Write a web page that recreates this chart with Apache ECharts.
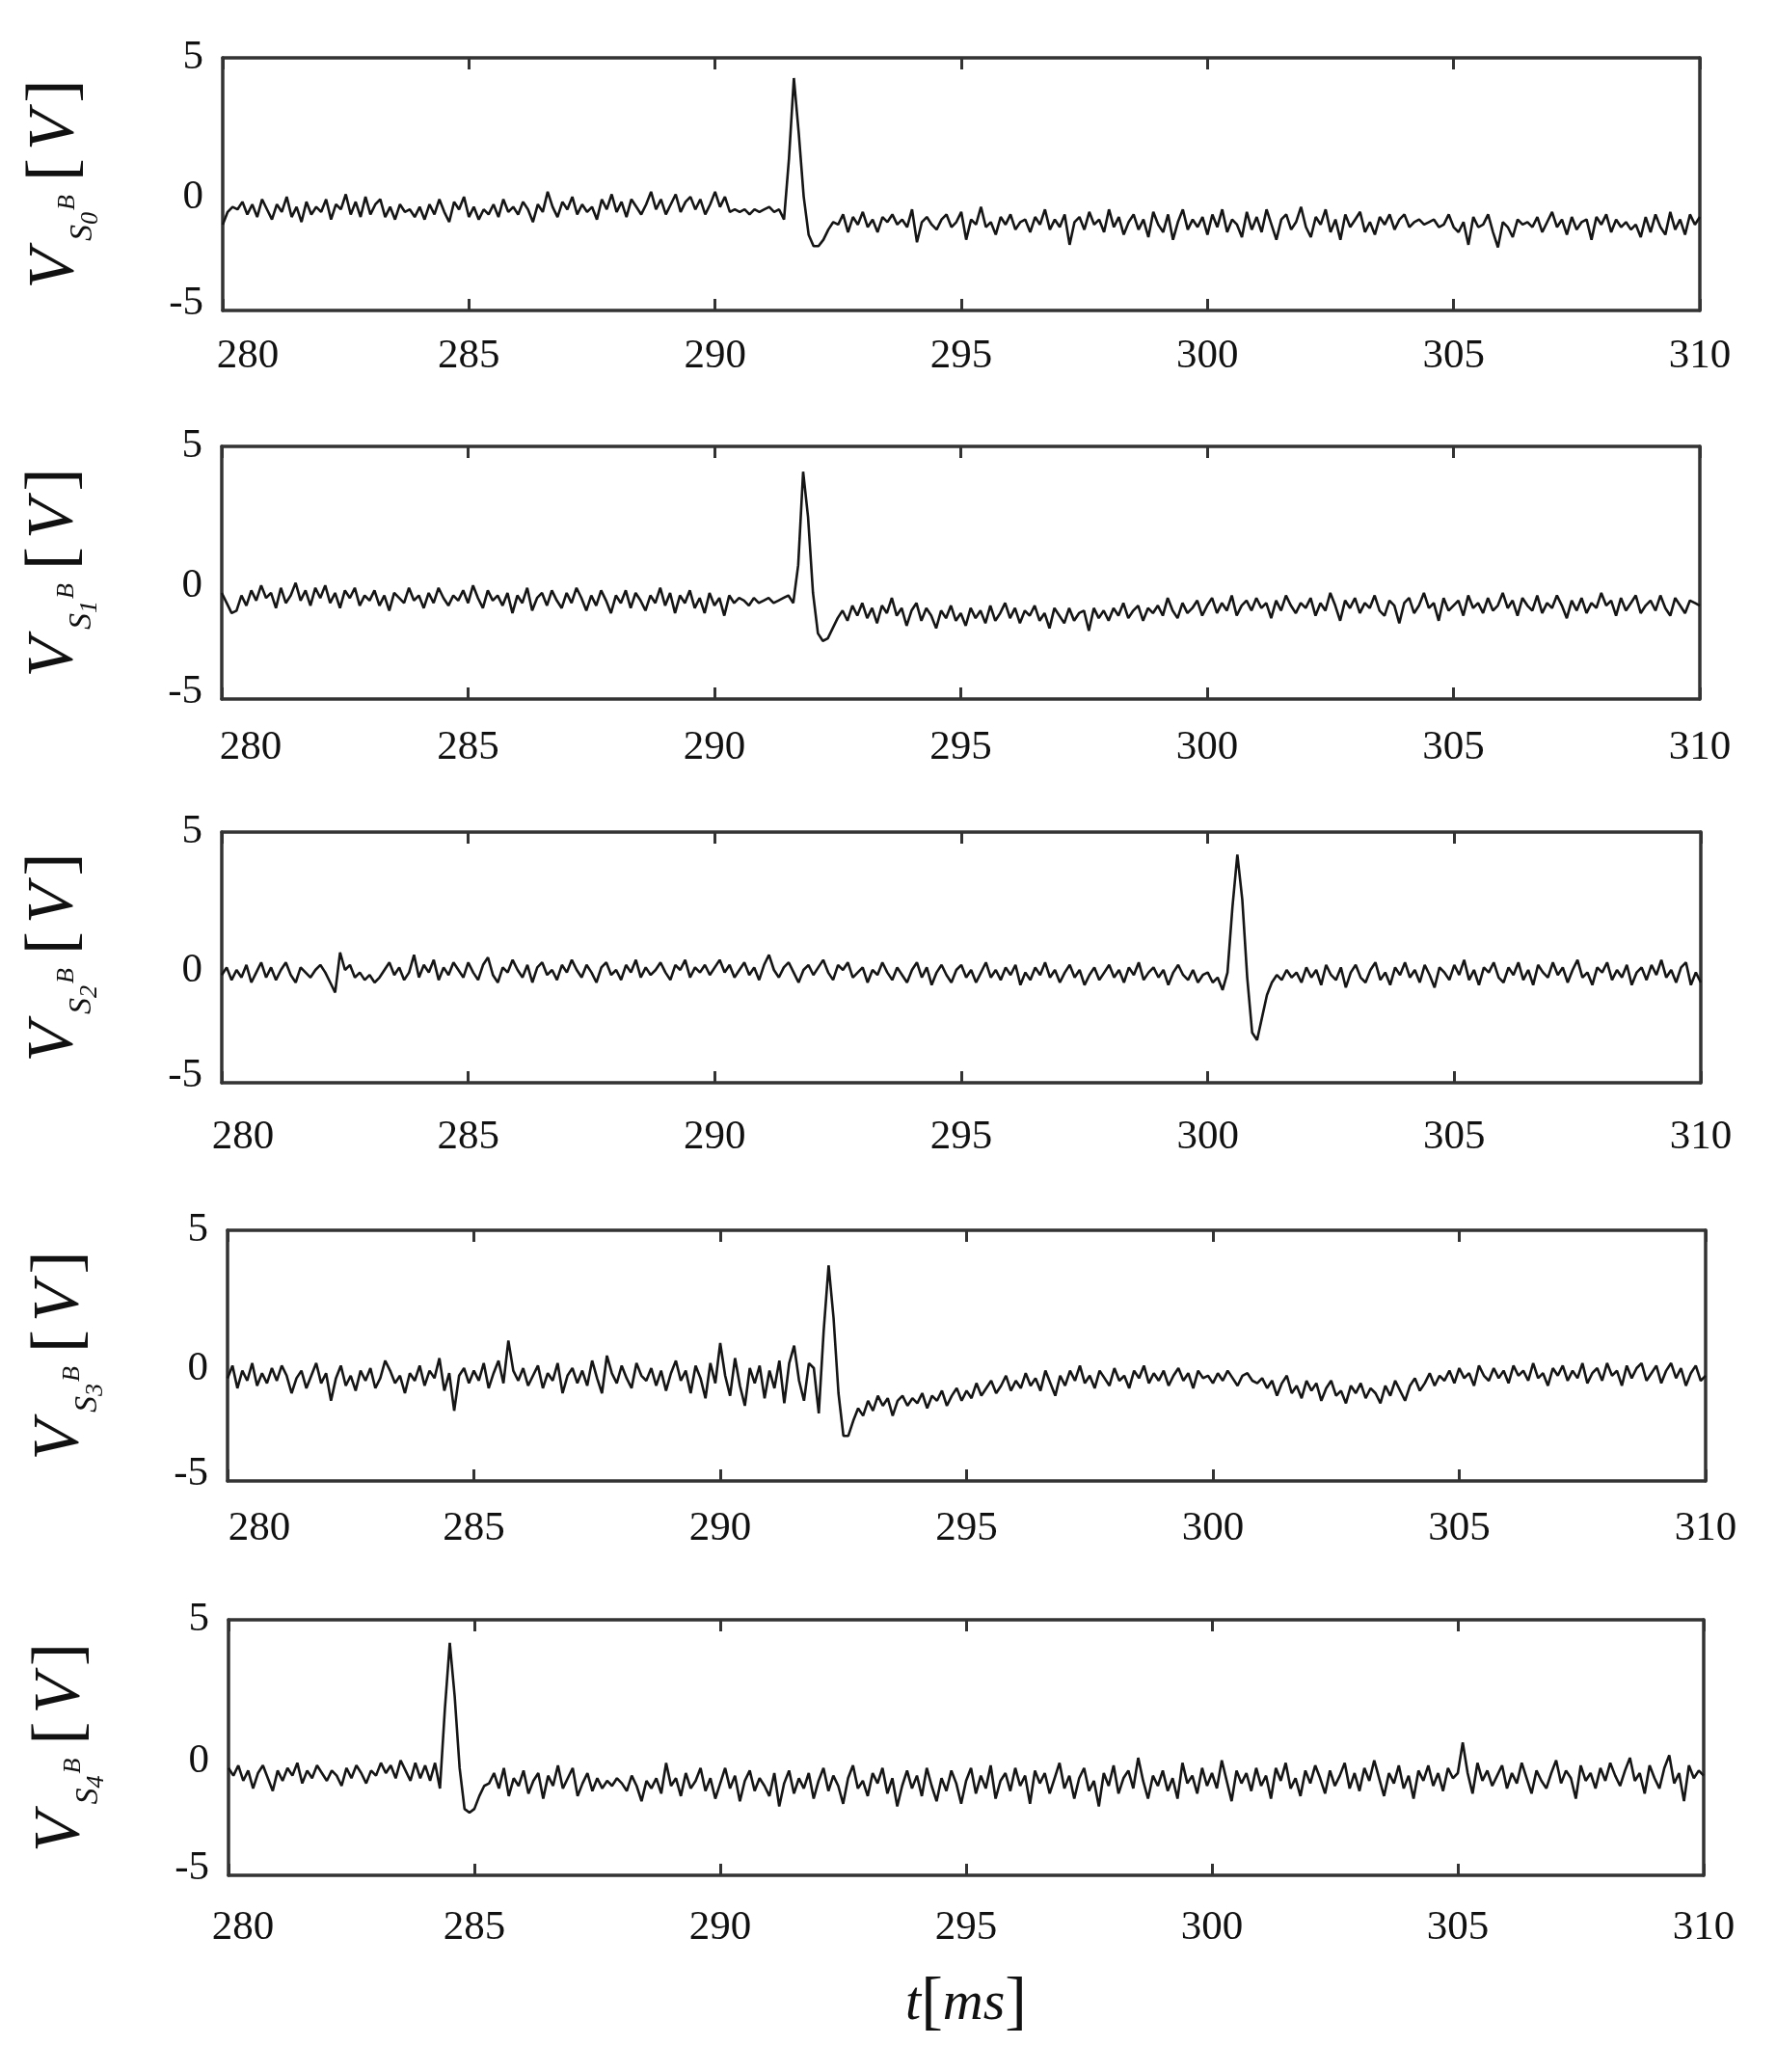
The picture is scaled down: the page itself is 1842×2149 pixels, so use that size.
<!DOCTYPE html>
<html>
<head>
<meta charset="utf-8">
<script src="https://cdn.jsdelivr.net/npm/echarts@6/dist/echarts.min.js"></script>
<style>
html,body{margin:0;padding:0;background:#fff;}
#c{width:1842px;height:2149px;}
</style>
</head>
<body>
<div id="c"></div>
<script>
// ---- data (time axis: 280.0 ms .. 310.0 ms, sampled every 0.1 ms) ----
const T_START = 280;
const T_STEP = 0.1;
const X_TICKS = [280, 285, 290, 295, 300, 305, 310];
const Y_TICKS = [-5, 0, 5];
const SUBSCRIPTS = ['0', '1', '2', '3', '4'];

const vS0 = [
-1.6,-1.1,-0.9,-1.0,-0.7,-1.2,-0.8,-1.3,-0.6,-1.0,
-1.4,-0.8,-1.1,-0.5,-1.3,-0.9,-1.5,-0.7,-1.2,-0.9,
-1.1,-0.6,-1.4,-0.8,-1.0,-0.4,-1.2,-0.7,-1.3,-0.5,
-1.2,-0.8,-0.6,-1.3,-0.9,-1.4,-0.8,-1.1,-1.0,-1.3,
-0.9,-1.4,-0.8,-1.2,-0.6,-1.1,-1.5,-0.7,-1.0,-0.5,
-1.3,-0.9,-1.4,-1.0,-1.2,-0.8,-1.3,-0.6,-1.1,-0.9,
-1.2,-0.7,-1.0,-1.5,-0.8,-1.1,-0.3,-0.9,-1.3,-0.7,
-1.0,-0.5,-1.2,-0.8,-1.1,-0.9,-1.4,-0.6,-1.0,-0.4,
-1.1,-0.7,-1.3,-0.6,-0.9,-1.2,-0.8,-0.3,-1.0,-0.6,
-1.2,-0.8,-0.4,-1.1,-0.7,-0.5,-1.0,-0.6,-1.2,-0.8,
-0.3,-0.9,-0.5,-1.1,-1.0,-1.1,-1.0,-1.2,-1.0,-1.1,
-1.0,-0.9,-1.1,-1.0,-1.4,1.0,4.2,2.0,-0.5,-2.0,
-2.45,-2.45,-2.2,-1.8,-1.5,-1.6,-1.2,-1.9,-1.3,-1.6,
-1.1,-1.7,-1.4,-1.9,-1.3,-1.5,-1.2,-1.6,-1.4,-1.7,
-1.0,-2.3,-1.5,-1.3,-1.6,-1.8,-1.4,-1.2,-1.7,-1.5,
-1.1,-2.2,-1.4,-1.6,-0.9,-1.7,-1.5,-2.0,-1.3,-1.6,
-1.2,-1.8,-1.5,-1.4,-1.9,-1.3,-1.6,-1.0,-1.8,-1.4,
-1.7,-1.2,-2.4,-1.5,-1.3,-1.8,-1.1,-1.6,-1.4,-1.9,
-1.0,-1.7,-1.3,-2.0,-1.5,-1.2,-1.8,-1.4,-2.1,-1.1,
-1.6,-1.9,-1.2,-2.2,-1.5,-1.0,-1.8,-1.4,-1.7,-1.3,
-2.0,-1.2,-1.7,-1.0,-1.9,-1.4,-1.6,-2.1,-1.1,-1.8,
-1.3,-1.9,-1.0,-1.6,-2.2,-1.4,-1.2,-1.8,-1.5,-0.9,
-1.7,-2.1,-1.3,-1.6,-1.0,-1.9,-1.4,-2.2,-1.2,-1.7,
-1.4,-1.1,-1.9,-1.5,-2.0,-1.3,-1.6,-1.2,-1.8,-1.4,
-1.2,-1.7,-1.5,-1.4,-1.6,-1.5,-1.4,-1.7,-1.6,-1.2,
-1.7,-1.9,-1.5,-2.4,-1.3,-1.7,-1.6,-1.2,-1.9,-2.5,
-1.5,-1.7,-2.1,-1.4,-1.6,-1.5,-1.7,-1.3,-1.9,-1.5,
-1.1,-1.7,-1.4,-2.0,-1.3,-1.8,-1.5,-1.4,-2.2,-1.3,
-1.6,-1.2,-1.9,-1.4,-1.7,-1.5,-1.8,-1.6,-2.1,-1.3,
-1.9,-1.2,-1.7,-2.0,-1.1,-1.8,-1.4,-2.0,-1.2,-1.6,
-1.3];

const vS1 = [
-0.8,-1.2,-1.6,-1.5,-0.9,-1.3,-0.7,-1.1,-0.5,-1.0,
-0.8,-1.4,-0.6,-1.2,-0.9,-0.4,-1.1,-0.7,-1.3,-0.6,
-1.0,-0.5,-1.2,-0.8,-1.4,-0.7,-1.0,-0.6,-1.3,-0.9,
-1.1,-0.7,-1.3,-0.9,-1.5,-0.8,-1.0,-1.2,-0.6,-1.1,
-0.9,-1.4,-0.8,-1.2,-0.6,-1.0,-1.3,-0.9,-1.1,-0.7,
-1.2,-0.5,-1.0,-1.4,-0.7,-1.1,-0.9,-1.3,-0.8,-1.6,
-0.9,-1.2,-0.6,-1.5,-1.0,-0.8,-1.3,-0.7,-1.1,-1.4,
-0.8,-1.2,-0.6,-1.0,-1.5,-0.9,-1.3,-0.7,-1.1,-1.6,
-0.9,-1.2,-0.7,-1.4,-0.8,-1.1,-1.5,-0.9,-1.2,-0.6,
-1.3,-0.8,-1.6,-0.9,-1.2,-0.7,-1.4,-1.0,-1.6,-0.8,
-1.3,-1.0,-1.7,-0.9,-1.2,-1.0,-1.1,-1.3,-1.0,-1.2,
-1.1,-1.0,-1.2,-1.1,-1.0,-0.9,-1.2,0.3,4.0,2.2,
-0.8,-2.4,-2.7,-2.6,-2.2,-1.8,-1.5,-1.9,-1.3,-1.7,
-1.2,-1.8,-1.4,-2.0,-1.3,-1.6,-1.0,-1.7,-1.4,-2.1,
-1.5,-1.2,-1.9,-1.4,-1.7,-2.2,-1.5,-1.8,-1.3,-1.9,
-1.6,-2.1,-1.4,-1.8,-1.5,-2.0,-1.3,-1.9,-1.6,-1.2,
-1.8,-1.4,-2.0,-1.5,-1.7,-1.3,-1.9,-1.6,-2.2,-1.4,
-1.7,-2.0,-1.4,-1.9,-1.6,-1.5,-2.3,-1.4,-1.8,-1.5,
-1.9,-1.4,-1.7,-1.2,-1.8,-1.5,-1.3,-1.9,-1.4,-1.6,
-1.3,-1.7,-1.0,-1.5,-1.8,-1.2,-1.6,-1.4,-1.1,-1.7,
-1.3,-1.0,-1.6,-1.2,-1.5,-0.9,-1.7,-1.3,-1.1,-1.5,
-1.0,-1.4,-1.2,-1.8,-1.1,-1.5,-0.9,-1.3,-1.6,-1.2,
-1.4,-1.0,-1.7,-1.2,-1.5,-0.8,-1.3,-1.9,-1.1,-1.4,
-1.0,-1.6,-1.2,-1.4,-0.9,-1.5,-1.7,-1.1,-1.3,-2.0,
-1.2,-1.0,-1.6,-1.3,-0.8,-1.4,-1.2,-1.9,-1.0,-1.5,
-1.3,-1.1,-1.7,-0.9,-1.4,-1.2,-1.6,-1.0,-1.5,-1.3,
-0.8,-1.4,-1.1,-1.7,-1.0,-1.3,-1.5,-0.9,-1.6,-1.2,
-1.4,-0.9,-1.3,-1.8,-1.1,-1.5,-1.0,-1.6,-1.2,-1.4,
-0.8,-1.3,-1.1,-1.7,-1.0,-1.5,-1.2,-0.9,-1.6,-1.3,
-1.1,-1.5,-0.9,-1.4,-1.7,-1.0,-1.3,-1.6,-1.1,-1.2,
-1.3];

const vS2 = [
-0.7,-0.4,-0.9,-0.5,-0.8,-0.3,-1.0,-0.6,-0.2,-0.8,
-0.4,-0.9,-0.5,-0.2,-0.7,-1.0,-0.4,-0.6,-0.8,-0.5,
-0.3,-0.6,-1.0,-1.4,0.2,-0.5,-0.3,-0.8,-0.6,-0.9,
-0.7,-1.0,-0.8,-0.5,-0.2,-0.7,-0.4,-0.9,-0.6,0.1,
-0.8,-0.3,-0.6,-0.1,-0.9,-0.4,-0.7,-0.2,-0.5,-0.8,
-0.2,-0.6,-0.9,-0.3,0.0,-0.7,-1.0,-0.4,-0.6,-0.1,
-0.5,-0.8,-0.3,-1.0,-0.4,-0.2,-0.7,-0.5,-0.9,-0.3,
-0.6,-0.1,-0.5,-0.8,-0.3,-0.6,-1.0,-0.4,-0.2,-0.7,
-0.5,-0.9,-0.3,-0.6,-0.1,-0.8,-0.4,-0.7,-0.5,-0.2,
-0.6,-0.9,-0.3,-0.5,-0.1,-0.8,-0.4,-0.6,-0.3,-0.7,
-0.4,-0.1,-0.6,-0.3,-0.8,-0.5,-0.2,-0.7,-0.4,-0.9,
-0.3,0.1,-0.5,-0.8,-0.4,-0.2,-0.6,-1.0,-0.5,-0.3,
-0.7,-0.4,-0.1,-0.6,-0.9,-0.3,-0.5,-0.2,-0.8,-0.6,
-0.4,-1.0,-0.5,-0.7,-0.2,-0.6,-0.9,-0.4,-0.7,-1.0,
-0.5,-0.2,-0.8,-0.4,-1.1,-0.6,-0.3,-0.7,-1.0,-0.5,
-0.3,-0.8,-0.5,-1.0,-0.6,-0.2,-0.8,-0.5,-0.9,-0.4,
-0.7,-0.3,-1.1,-0.6,-0.9,-0.4,-0.7,-0.2,-0.8,-0.5,
-1.0,-0.6,-0.3,-0.8,-0.5,-1.1,-0.7,-0.4,-0.9,-0.6,
-0.3,-0.8,-0.5,-1.0,-0.4,-0.7,-0.2,-0.9,-0.6,-0.4,
-0.8,-0.5,-1.1,-0.6,-0.3,-0.7,-0.9,-0.5,-1.0,-0.7,
-0.6,-1.0,-0.8,-1.3,-0.6,2.0,4.1,2.3,-0.8,-3.0,
-3.3,-2.4,-1.5,-1.0,-0.7,-0.9,-0.5,-0.8,-0.6,-1.0,
-0.4,-0.8,-0.5,-1.1,-0.3,-0.7,-0.9,-0.4,-1.2,-0.6,
-0.3,-0.8,-1.0,-0.5,-0.2,-0.9,-0.6,-1.1,-0.4,-0.7,
-0.2,-0.8,-0.5,-1.0,-0.3,-0.7,-1.2,-0.4,-0.6,-0.9,
-0.3,-0.7,-0.1,-0.9,-0.5,-1.1,-0.4,-0.6,-0.2,-0.8,
-1.0,-0.4,-0.7,-0.2,-0.9,-0.5,-1.1,-0.3,-0.6,-0.8,
-0.2,-0.7,-0.4,-1.0,-0.5,-0.1,-0.8,-0.6,-1.1,-0.4,
-0.6,-0.2,-0.9,-0.5,-0.8,-0.3,-1.1,-0.6,-0.4,-0.9,
-0.3,-0.7,-0.1,-0.8,-0.5,-1.0,-0.4,-0.2,-1.1,-0.6,
-1.0];

const vS3 = [
-0.9,-0.4,-1.3,-0.6,-1.0,-0.3,-1.2,-0.7,-1.1,-0.5,
-1.0,-0.4,-0.8,-1.5,-0.9,-0.6,-1.3,-0.8,-0.3,-1.1,
-0.7,-1.8,-0.9,-0.4,-1.2,-0.8,-1.4,-0.6,-1.0,-0.5,
-1.3,-0.9,-0.2,-0.6,-1.1,-0.8,-1.5,-0.7,-1.0,-0.4,
-1.2,-0.6,-0.9,-0.1,-1.4,-0.7,-2.2,-0.8,-0.5,-1.1,
-0.6,-1.0,-0.3,-1.3,-0.7,-0.2,-1.1,0.6,-0.6,-1.0,
-0.5,-1.2,-0.8,-0.4,-1.3,-0.7,-1.0,-0.3,-1.5,-0.8,
-0.5,-1.1,-0.6,-1.2,-0.2,-0.9,-1.5,0.0,-0.7,-1.1,
-0.4,-0.9,-1.3,-0.3,-0.8,-1.0,-0.5,-1.2,-0.6,-1.4,
-0.7,-0.2,-1.0,-0.6,-1.5,-0.4,-0.9,-1.7,-0.3,-1.1,
0.5,-0.8,-1.6,-0.1,-1.2,-2.0,-0.5,-1.1,-0.4,-1.7,
-0.6,-1.3,-0.2,-1.9,-0.3,0.4,-1.0,-1.8,-0.3,-0.5,
-2.3,1.0,3.6,1.5,-1.5,-3.2,-3.2,-2.6,-2.1,-2.4,
-1.8,-2.2,-1.6,-2.0,-1.7,-2.4,-1.8,-1.6,-2.0,-1.7,
-1.9,-1.5,-2.1,-1.6,-1.8,-1.4,-2.0,-1.6,-1.3,-1.8,
-1.4,-1.7,-1.1,-1.6,-1.3,-1.0,-1.5,-1.2,-0.8,-1.4,
-1.0,-1.3,-0.7,-1.2,-0.9,-1.4,-0.6,-1.1,-1.6,-0.8,
-1.2,-0.6,-1.0,-0.4,-1.1,-0.8,-1.3,-0.6,-0.9,-1.2,
-0.5,-1.0,-0.8,-1.3,-0.6,-0.9,-0.4,-1.1,-0.7,-1.0,
-0.6,-1.2,-0.8,-0.5,-1.0,-0.7,-1.3,-0.6,-0.9,-0.8,
-1.1,-0.7,-1.0,-0.6,-0.9,-1.2,-0.8,-0.7,-1.0,-1.1,
-0.9,-1.3,-1.0,-1.6,-1.1,-0.8,-1.5,-1.2,-1.7,-1.0,
-1.4,-1.1,-1.8,-1.3,-1.0,-1.6,-1.4,-1.9,-1.2,-1.5,
-1.1,-1.7,-1.3,-1.5,-1.9,-1.2,-1.6,-1.0,-1.4,-1.8,
-1.2,-0.9,-1.4,-1.1,-0.7,-1.2,-0.8,-1.0,-0.6,-1.1,
-0.5,-0.9,-0.7,-1.2,-0.4,-0.8,-1.0,-0.5,-0.9,-0.6,
-1.1,-0.4,-0.8,-0.6,-1.0,-0.3,-0.9,-0.7,-1.2,-0.5,
-0.8,-0.4,-1.0,-0.6,-0.9,-0.3,-1.1,-0.7,-0.5,-1.0,
-0.3,-0.8,-0.6,-1.2,-0.4,-0.9,-0.5,-0.3,-1.0,-0.7,
-0.4,-1.1,-0.6,-0.3,-0.9,-0.5,-1.2,-0.7,-0.4,-1.0,
-0.8];

const vS4 = [
-0.8,-1.1,-0.7,-1.3,-0.9,-1.6,-1.0,-0.7,-1.2,-1.7,
-0.9,-1.3,-0.8,-1.1,-0.6,-1.4,-0.9,-1.2,-0.7,-1.0,
-1.3,-0.9,-1.1,-1.5,-0.8,-1.2,-0.7,-1.0,-1.4,-0.9,
-1.1,-0.6,-1.0,-0.7,-1.2,-0.5,-0.9,-1.3,-0.6,-1.2,
-0.7,-1.3,-0.6,-1.6,1.5,4.1,2.0,-0.8,-2.4,-2.55,
-2.4,-1.9,-1.5,-1.4,-1.0,-1.6,-0.8,-1.9,-1.2,-1.5,
-0.9,-1.8,-1.3,-1.0,-2.0,-1.1,-1.5,-0.7,-1.6,-1.2,
-0.8,-1.9,-1.4,-1.0,-1.7,-1.2,-1.6,-1.3,-1.5,-1.2,
-1.4,-1.7,-1.1,-1.5,-2.1,-1.3,-1.6,-1.2,-1.8,-0.6,
-1.5,-1.2,-1.9,-1.0,-1.6,-1.3,-0.8,-1.7,-1.2,-2.0,
-1.4,-0.8,-1.6,-1.1,-2.1,-1.3,-0.9,-1.7,-1.2,-1.5,
-1.9,-1.0,-2.3,-1.4,-0.9,-1.8,-1.2,-1.6,-1.0,-2.0,
-1.3,-0.8,-1.7,-1.1,-1.5,-2.2,-1.2,-0.7,-1.6,-1.3,
-1.9,-1.0,-1.4,-0.8,-1.8,-1.2,-2.3,-1.5,-0.9,-1.6,
-1.1,-1.9,-0.8,-1.5,-2.1,-1.2,-1.7,-0.9,-1.4,-2.2,
-1.3,-0.8,-1.8,-1.1,-1.6,-0.7,-2.0,-1.3,-1.0,-1.7,
-0.8,-1.5,-1.1,-2.2,-0.9,-1.4,-1.0,-1.8,-1.2,-0.6,
-1.6,-1.1,-2.0,-1.2,-0.8,-1.7,-1.3,-2.3,-1.0,-1.5,
-0.7,-1.8,-1.2,-0.9,-1.6,-0.4,-1.3,-2.0,-1.1,-1.5,
-0.9,-1.7,-1.2,-2.0,-0.6,-1.4,-1.1,-1.8,-0.8,-1.5,
-1.0,-1.6,-0.5,-1.3,-2.1,-0.9,-1.4,-1.0,-1.7,-0.8,
-1.5,-1.1,-2.0,-0.8,-1.3,-0.6,-1.6,-1.2,-1.9,-0.9,
-1.4,-0.7,-1.2,-1.8,-0.9,-1.5,-1.1,-0.6,-1.6,-1.0,
-1.7,-0.8,-1.3,-0.5,-1.2,-1.9,-1.0,-1.4,-0.7,-1.6,
-1.1,-2.0,-0.9,-1.3,-0.7,-1.5,-1.0,-1.7,-0.8,-1.2,
-1.0,0.2,-1.0,-1.8,-0.6,-1.3,-0.9,-1.5,-1.1,-0.7,
-1.6,-1.0,-1.4,-0.6,-1.2,-1.8,-0.9,-1.3,-1.6,-1.0,
-0.5,-1.4,-0.9,-1.2,-2.0,-0.7,-1.3,-1.0,-1.6,-0.8,
-1.3,-0.6,-1.1,-1.5,-0.9,-0.4,-1.3,-1.0,-1.8,-0.7,
-1.2,-1.6,-0.8,-0.3,-1.4,-1.0,-2.1,-0.7,-1.2,-0.9,
-1.1];

const SIGNALS = [vS0, vS1, vS2, vS3, vS4];

// ---- layout (pixels) ----
const PANELS = [
  {left: 231, width: 1532, top: 60,   height: 262, firstShift: 26, labelMargin: 26},
  {left: 230, width: 1533, top: 463,  height: 262, firstShift: 30, labelMargin: 29},
  {left: 230, width: 1534, top: 863,  height: 260, firstShift: 22, labelMargin: 35},
  {left: 236, width: 1533, top: 1276, height: 260, firstShift: 33, labelMargin: 28},
  {left: 237, width: 1530, top: 1680, height: 265, firstShift: 15, labelMargin: 33}
];

const FONT = 'Liberation Serif';
const INK = '#111';
const FRAME = '#333';
const LABEL_SIZE = 43;
const TICK_LEN_V = 0.45; // tick length expressed in axis units (volts)

const grids = [], xAxes = [], yAxes = [], series = [];

const frameLine = {show: true, onZero: false, lineStyle: {color: FRAME, width: 3.5}};
const tickStyle = {show: true, inside: true, length: 12, lineStyle: {color: FRAME, width: 3}};

// inner tick marks on top and bottom edges, placed with the axis scales
const yTop = Y_TICKS[Y_TICKS.length - 1], yBot = Y_TICKS[0];
const innerTicks = X_TICKS.slice(1, -1);
const tickMarkData = [];
innerTicks.forEach(t => {
  tickMarkData.push([{coord: [t, yTop]}, {coord: [t, yTop - TICK_LEN_V]}]);
  tickMarkData.push([{coord: [t, yBot]}, {coord: [t, yBot + TICK_LEN_V]}]);
});

PANELS.forEach((p, i) => {
  grids.push({
    left: p.left, top: p.top, width: p.width, height: p.height,
    show: false, containLabel: false, outerBoundsMode: 'none'
  });
  const isLast = i === PANELS.length - 1;
  xAxes.push({
    type: 'value', gridIndex: i, position: 'bottom',
    min: X_TICKS[0], max: X_TICKS[X_TICKS.length - 1], interval: 5,
    axisLine: frameLine,
    axisTick: tickStyle,
    splitLine: {show: false},
    axisLabel: {
      show: true, fontFamily: FONT, fontSize: LABEL_SIZE, lineHeight: 44, color: INK, margin: p.labelMargin,
      formatter: v => v === X_TICKS[0] ? '{f|' + v + '}' : String(v),
      rich: {f: {fontFamily: FONT, fontSize: LABEL_SIZE, lineHeight: 44, color: INK, padding: [0, 0, 0, 2 * p.firstShift]}}
    },
    name: isLast ? '{i|t}{b|[}{i|ms}{b|]}' : '',
    nameLocation: 'middle', nameGap: 98,
    nameTextStyle: {
      rich: {
        i: {fontFamily: FONT, fontStyle: 'italic', fontSize: 58, color: INK, lineHeight: 72},
        b: {fontFamily: FONT, fontSize: 68, color: INK, lineHeight: 72}
      }
    }
  });
  xAxes.push({
    type: 'value', gridIndex: i, position: 'top',
    min: X_TICKS[0], max: X_TICKS[X_TICKS.length - 1], interval: 5,
    axisLine: frameLine,
    axisTick: tickStyle,
    axisLabel: {show: false},
    splitLine: {show: false}
  });
  const sub = SUBSCRIPTS[i];
  yAxes.push({
    type: 'value', gridIndex: i, position: 'left',
    min: Y_TICKS[0], max: Y_TICKS[Y_TICKS.length - 1], interval: 5,
    axisLine: frameLine,
    axisTick: {show: false},
    splitLine: {show: false},
    axisLabel: {
      fontFamily: FONT, fontSize: LABEL_SIZE, color: INK, margin: 20,
      formatter: v => v === 0 ? '{z|0}' : (v === -5 ? '{m|-5}' : String(v)),
      rich: {
        z: {fontFamily: FONT, fontSize: LABEL_SIZE, color: INK, padding: [28, 0, 0, 0]},
        m: {fontFamily: FONT, fontSize: LABEL_SIZE, color: INK, padding: [0, 0, 14, 0]}
      }
    },
    name: '{v|V}{s|S}{n|' + sub + '}{b|B}{u|[}{v|V}{u|]}',
    nameLocation: 'middle', nameRotate: 90, nameGap: 124,
    nameTextStyle: {
      rich: {
        v: {fontFamily: FONT, fontStyle: 'italic', fontSize: 68, color: INK, lineHeight: 100, padding: [0, 4, 0, 4]},
        s: {fontFamily: FONT, fontStyle: 'italic', fontSize: 34, color: INK, lineHeight: 34, verticalAlign: 'bottom', padding: [0, 0, 4, 4]},
        n: {fontFamily: FONT, fontStyle: 'italic', fontSize: 26, color: INK, lineHeight: 26, verticalAlign: 'bottom', padding: [0, 0, 0, 0]},
        b: {fontFamily: FONT, fontStyle: 'italic', fontSize: 26, color: INK, lineHeight: 26, verticalAlign: 'bottom', padding: [0, 10, 24, 2]},
        u: {fontFamily: FONT, fontSize: 72, color: INK, lineHeight: 100, padding: [0, 4, 0, 4]}
      }
    }
  });
  // right-hand frame edge
  yAxes.push({
    type: 'value', gridIndex: i, position: 'right',
    min: Y_TICKS[0], max: Y_TICKS[Y_TICKS.length - 1], interval: 5,
    axisLine: frameLine,
    axisTick: {show: false},
    axisLabel: {show: false},
    splitLine: {show: false}
  });
  series.push({
    type: 'line', xAxisIndex: 2 * i, yAxisIndex: 2 * i,
    data: SIGNALS[i].map((v, k) => [T_START + k * T_STEP, v]),
    showSymbol: false, symbol: 'none',
    lineStyle: {color: '#151515', width: 2.6},
    clip: true,
    markLine: {
      silent: true, animation: false, symbol: ['none', 'none'],
      label: {show: false},
      emphasis: {disabled: true},
      lineStyle: {color: FRAME, width: 3, type: 'solid'},
      data: tickMarkData
    }
  });
});

const chart = echarts.init(document.getElementById('c'), null, {renderer: 'canvas'});
chart.setOption({
  backgroundColor: '#fff',
  animation: false,
  grid: grids,
  xAxis: xAxes,
  yAxis: yAxes,
  series: series
});
</script>
</body>
</html>
